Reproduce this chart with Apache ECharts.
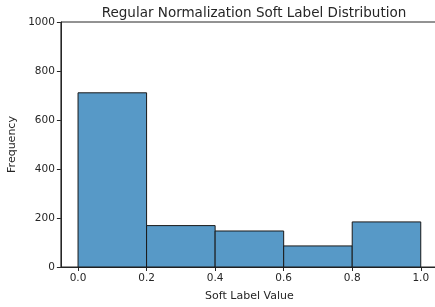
<!DOCTYPE html>
<html>
<head>
<meta charset="utf-8">
<script src="https://cdn.jsdelivr.net/npm/echarts@6/dist/echarts.min.js"></script>
<style>
  html, body { margin: 0; padding: 0; background: #fff; }
  #chart { width: 435px; height: 307px; }
</style>
</head>
<body>
<div id="chart"></div>
<script>
// histogram bins (soft label value) and counts
const binStarts = [0.0, 0.2, 0.4, 0.6, 0.8];
const binEnds = [0.2, 0.4, 0.6, 0.8, 1.0];
const counts = [711, 169, 147, 86, 184];
const xTicks = [0.0, 0.2, 0.4, 0.6, 0.8, 1.0];

const textColor = "#262626";
const fontFamily = "DejaVu Sans";

const chart = echarts.init(document.getElementById("chart"));

chart.setOption({
  animation: false,
  title: {
    text: "Regular Normalization Soft Label Distribution",
    left: 249,
    textAlign: "center",
    top: 1,
    textStyle: { fontFamily: fontFamily, fontSize: 13.5, fontWeight: "normal", color: textColor }
  },
  grid: {
    left: 60.9,
    top: 22,
    width: 377,
    height: 245,
    outerBoundsMode: "none",
    containLabel: false,
    show: true,
    borderColor: "#262626",
    borderWidth: 1
  },
  xAxis: {
    type: "value",
    min: -0.05,
    max: 1.05,
    name: "Soft Label Value",
    nameLocation: "middle",
    nameGap: 24,
    nameTextStyle: { fontFamily: fontFamily, fontSize: 11, color: textColor },
    splitLine: { show: false },
    axisLine: { show: true, onZero: false, lineStyle: { color: "#262626", width: 1 } },
    axisTick: { show: true, length: 4, customValues: xTicks, lineStyle: { color: "#262626" } },
    axisLabel: {
      customValues: xTicks,
      formatter: v => v.toFixed(1),
      fontFamily: fontFamily, fontSize: 10.5, color: textColor, margin: 6
    }
  },
  yAxis: {
    type: "value",
    min: 0,
    max: 1000,
    interval: 200,
    name: "Frequency",
    nameLocation: "middle",
    nameGap: 41,
    nameTextStyle: { fontFamily: fontFamily, fontSize: 11, color: textColor },
    splitLine: { show: false },
    axisLine: { show: true, onZero: false, lineStyle: { color: "#262626", width: 1 } },
    axisTick: { show: true, length: 4, lineStyle: { color: "#262626" } },
    axisLabel: { formatter: v => String(v), fontFamily: fontFamily, fontSize: 10.5, color: textColor, margin: 6 }
  },
  series: [{
    type: "custom",
    data: binStarts.map((s, i) => [s, binEnds[i], counts[i]]),
    encode: { x: [0, 1], y: 2 },
    renderItem: function (params, api) {
      const p0 = api.coord([api.value(0), 0]);
      const p1 = api.coord([api.value(1), api.value(2)]);
      return {
        type: "rect",
        shape: { x: p0[0], y: p1[1], width: p1[0] - p0[0], height: p0[1] - p1[1] },
        style: { fill: "#5799c7", stroke: "#1a1a1a", lineWidth: 1 }
      };
    }
  }]
});
</script>
</body>
</html>
